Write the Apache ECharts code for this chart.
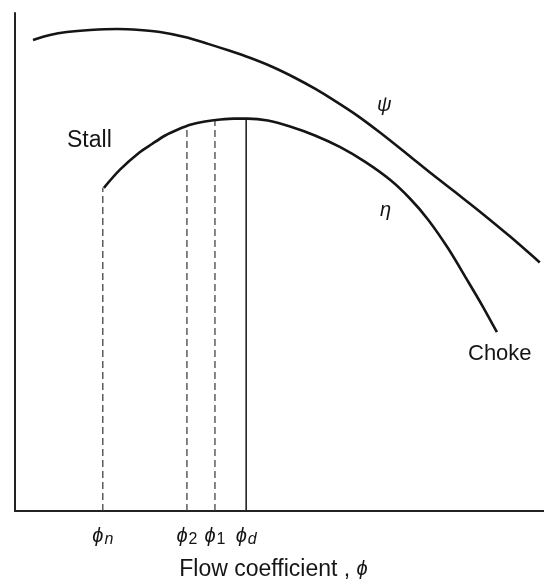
<!DOCTYPE html>
<html>
<head>
<meta charset="utf-8">
<script src="https://cdn.jsdelivr.net/npm/echarts@6/dist/echarts.min.js"></script>
<style>html,body{margin:0;padding:0;background:#fff}#c{width:544px;height:586px}</style>
</head>
<body>
<div id="c"></div>
<script>
// Head coefficient curve psi (x = flow coefficient, y = relative value)
var psiX = [0.034, 0.066, 0.098, 0.142, 0.193, 0.236, 0.274, 0.321, 0.365, 0.406, 0.444, 0.486,
            0.529, 0.567, 0.601, 0.647, 0.690, 0.741, 0.790, 0.836, 0.879, 0.936, 0.992];
var psiY = [0.946, 0.956, 0.962, 0.966, 0.968, 0.966, 0.962, 0.952, 0.938, 0.924, 0.910, 0.892,
            0.870, 0.848, 0.826, 0.794, 0.760, 0.717, 0.675, 0.637, 0.601, 0.551, 0.499];
// Efficiency curve eta (from stall to choke)
var etaX = [0.168, 0.198, 0.234, 0.259, 0.284, 0.308, 0.333, 0.359, 0.388, 0.414, 0.440, 0.478,
            0.520, 0.567, 0.614, 0.662, 0.709, 0.747, 0.781, 0.819, 0.853, 0.883, 0.911];
var etaY = [0.649, 0.685, 0.719, 0.737, 0.754, 0.766, 0.776, 0.782, 0.786, 0.788, 0.788, 0.784,
            0.772, 0.754, 0.731, 0.701, 0.665, 0.627, 0.585, 0.527, 0.467, 0.413, 0.359];
// Marked flow coefficients and the height of their drop lines
var markX = [0.166, 0.325, 0.378, 0.437];
var markTop = [0.649, 0.775, 0.785, 0.788];
var markSub = ['n', '2', '1', 'd'];
var markDashed = [true, true, true, false];

var FONT = '"Liberation Sans", Arial, sans-serif';
var INK = '#151515';

var series = [
  { type: 'line', data: psiX.map(function (x, i) { return [x, psiY[i]]; }), smooth: 0.3,
    showSymbol: false, lineStyle: { color: INK, width: 2.6 }, z: 5 },
  { type: 'line', data: etaX.map(function (x, i) { return [x, etaY[i]]; }), smooth: 0.3,
    showSymbol: false, lineStyle: { color: INK, width: 2.6 }, z: 5 }
];
markX.forEach(function (x, i) {
  series.push({
    type: 'line', data: [[x, 0], [x, markTop[i]]], showSymbol: false,
    lineStyle: markDashed[i] ? { color: '#333', width: 1.2, type: [7, 4] } : { color: '#222', width: 1.6 }
  });
});

function subStyle(s) {
  return (s === 'n' || s === 'd') ? 'si' : 'sn';
}

var chart = echarts.init(document.getElementById('c'), null, { renderer: 'canvas' });
chart.setOption({
  animation: false,
  backgroundColor: '#fff',
  grid: { left: 15, right: 0, top: 13, bottom: 74 },
  xAxis: {
    type: 'value', min: 0, max: 1,
    axisLine: { show: true, onZero: false, lineStyle: { color: '#222', width: 2 } },
    axisTick: { show: false },
    splitLine: { show: false },
    axisLabel: {
      customValues: markX, margin: 13,
      formatter: function (v) {
        var idx = 0, best = 1e9;
        markX.forEach(function (m, i) { var d = Math.abs(m - v); if (d < best) { best = d; idx = i; } });
        var s = markSub[idx];
        return '{p|ϕ}{' + subStyle(s) + '|' + s + '}';
      },
      rich: {
        p: { fontFamily: FONT, fontSize: 20, fontStyle: 'italic', color: INK },
        si: { fontFamily: FONT, fontSize: 16, fontStyle: 'italic', color: INK, padding: [8, 0, 0, 1] },
        sn: { fontFamily: FONT, fontSize: 16, color: INK, padding: [8, 0, 0, 1] }
      }
    },
    name: 'Flow coefficient , {i|ϕ}',
    nameLocation: 'middle', nameGap: 47,
    nameTextStyle: {
      fontFamily: FONT, fontSize: 23, color: INK, padding: [0, 12, 0, 0],
      rich: { i: { fontFamily: FONT, fontSize: 20, fontStyle: 'italic', color: INK } }
    }
  },
  yAxis: {
    type: 'value', min: 0, max: 1,
    axisLine: { show: true, onZero: false, lineStyle: { color: '#222', width: 2 } },
    axisTick: { show: false }, axisLabel: { show: false }, splitLine: { show: false }
  },
  graphic: [
    { type: 'text', left: 67, top: 129, style: { text: 'Stall', font: '23px ' + FONT, fill: INK } },
    { type: 'text', left: 468, top: 343, style: { text: 'Choke', font: '22px ' + FONT, fill: INK } },
    { type: 'text', left: 377, top: 95, style: { text: 'ψ', font: 'italic 20px ' + FONT, fill: INK } },
    { type: 'text', left: 380, top: 200, style: { text: 'η', font: 'italic 20px ' + FONT, fill: INK } }
  ],
  series: series
});
</script>
</body>
</html>
